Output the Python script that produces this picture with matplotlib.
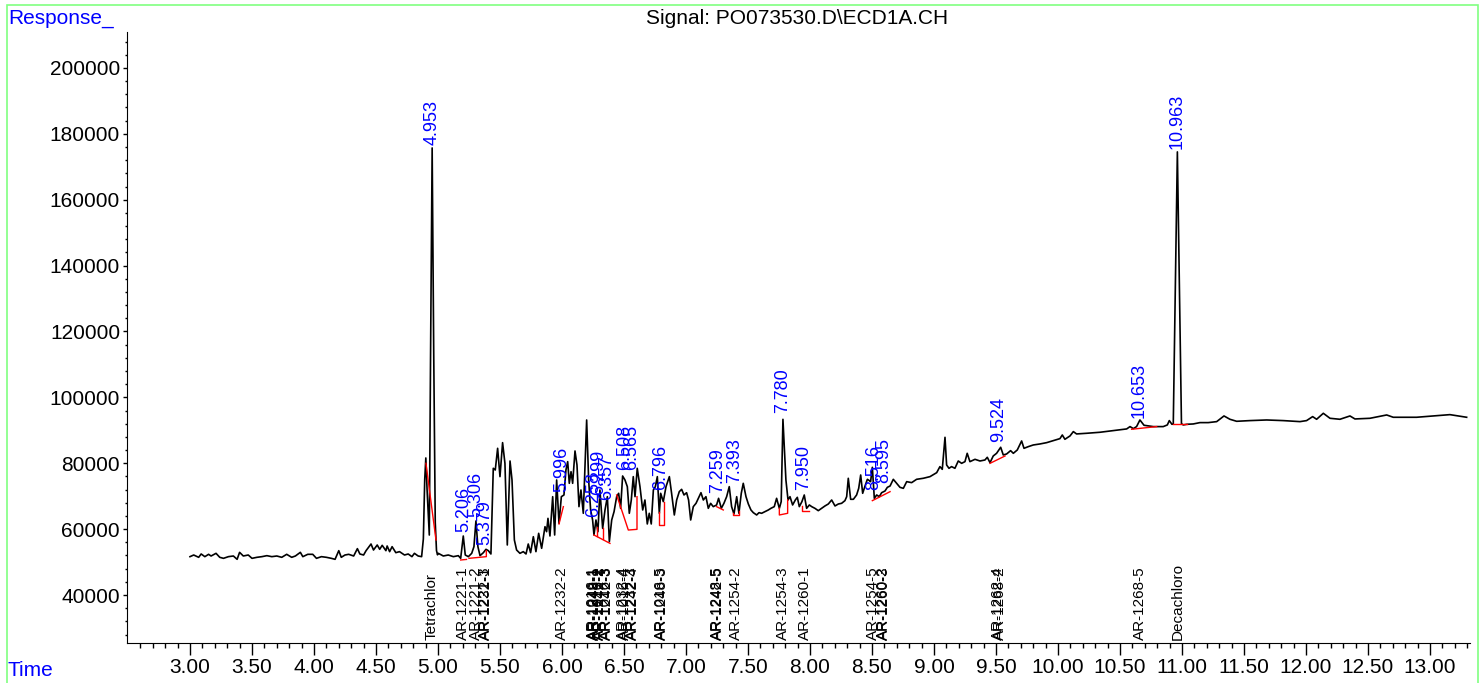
import matplotlib
matplotlib.use("Agg")
import matplotlib.pyplot as plt
from matplotlib.patches import Rectangle
from matplotlib.ticker import FormatStrFormatter

plt.rcParams['font.family'] = ['Liberation Sans', 'DejaVu Sans']

# ---- signal trace (time in min, response) ----
time = [3.00, 3.03, 3.07, 3.09, 3.12, 3.15, 3.17, 3.21, 3.24, 3.27, 3.31, 3.35, 3.38, 3.40, 3.43,
        3.47, 3.50, 3.54, 3.58, 3.62, 3.66, 3.70, 3.74, 3.78, 3.82, 3.85, 3.89, 3.91, 3.95, 3.99,
        4.02, 4.06, 4.10, 4.14, 4.17, 4.20, 4.22, 4.25, 4.28, 4.32, 4.35, 4.37, 4.40, 4.42, 4.46,
        4.48, 4.51, 4.53, 4.55, 4.58, 4.59, 4.61, 4.63, 4.66, 4.69, 4.73, 4.76, 4.79, 4.81, 4.84,
        4.868, 4.882, 4.893, 4.902, 4.912, 4.930, 4.940, 4.953, 4.966, 4.978, 4.988, 4.996,
        5.003, 5.043, 5.083, 5.124, 5.164, 5.183, 5.204, 5.220, 5.245, 5.272, 5.290, 5.306, 5.322,
        5.339, 5.366, 5.387, 5.406, 5.427, 5.446, 5.462, 5.481, 5.500, 5.521, 5.540, 5.559, 5.581,
        5.597, 5.616, 5.634, 5.661, 5.688, 5.710, 5.728, 5.747, 5.769, 5.790, 5.812, 5.836, 5.863,
        5.876, 5.887, 5.903, 5.925, 5.941, 5.957, 5.976, 5.995, 6.016, 6.032, 6.046, 6.059, 6.073,
        6.086, 6.105, 6.121, 6.137, 6.153, 6.172, 6.199, 6.215, 6.231, 6.247, 6.258, 6.274, 6.290,
        6.306, 6.328, 6.347, 6.366, 6.382, 6.401, 6.420, 6.441, 6.457, 6.473, 6.489, 6.508, 6.527,
        6.543, 6.559, 6.575, 6.589, 6.607, 6.629, 6.651, 6.669, 6.688, 6.704, 6.720, 6.737, 6.753,
        6.769, 6.785, 6.796, 6.817, 6.839, 6.866, 6.884, 6.906, 6.925, 6.946, 6.965, 6.984, 7.005,
        7.021, 7.038, 7.059, 7.081, 7.100, 7.121, 7.140, 7.161, 7.180, 7.199, 7.220, 7.247, 7.263,
        7.285, 7.306, 7.328, 7.349, 7.368, 7.387, 7.409, 7.427, 7.446, 7.462, 7.484, 7.503, 7.524,
        7.543, 7.570, 7.589, 7.610, 7.637, 7.664, 7.685, 7.712, 7.731, 7.753, 7.768, 7.782, 7.806,
        7.823, 7.839, 7.860, 7.882, 7.898, 7.914, 7.935, 7.954, 7.973, 7.995, 8.014, 8.040, 8.067,
        8.094, 8.121, 8.148, 8.175, 8.202, 8.229, 8.255, 8.282, 8.296, 8.309, 8.328, 8.350, 8.376,
        8.393, 8.409, 8.425, 8.444, 8.463, 8.479, 8.489, 8.503, 8.519, 8.538, 8.559, 8.578, 8.605,
        8.624, 8.646, 8.672, 8.699, 8.726, 8.753, 8.780, 8.820, 8.860, 8.914, 8.968, 9.022, 9.048,
        9.067, 9.089, 9.102, 9.121, 9.142, 9.169, 9.196, 9.223, 9.250, 9.268, 9.290, 9.331, 9.371,
        9.411, 9.430, 9.452, 9.478, 9.505, 9.538, 9.559, 9.586, 9.618, 9.640, 9.672, 9.707, 9.726,
        9.761, 9.801, 9.855, 9.909, 9.962, 10.016, 10.035, 10.056, 10.097, 10.124, 10.150, 10.231,
        10.339, 10.446, 10.554, 10.581, 10.608, 10.634, 10.661, 10.694, 10.769, 10.849, 10.882,
        10.898, 10.919, 10.930, 10.963, 10.996, 11.011, 11.038, 11.091, 11.145, 11.212, 11.280,
        11.339, 11.387, 11.441, 11.548, 11.683, 11.817, 11.952, 12.005, 12.054, 12.086, 12.140,
        12.194, 12.274, 12.355, 12.395, 12.516, 12.651, 12.704, 12.892, 13.027, 13.161, 13.296]
response = [51640, 52140, 51440, 52450, 51640, 52350, 51840, 52650, 51440, 51130, 51640, 51840, 50830,
            52950, 51840, 52140, 51130, 51440, 51640, 51940, 51640, 51840, 51440, 52350, 51440, 51840,
            52950, 51640, 52350, 52350, 51130, 51640, 51440, 51130, 50830, 53460, 51440, 52140, 52350,
            51840, 54070, 52450, 52140, 53460, 55480, 53660, 55180, 53870, 55080, 53460, 54880, 53160,
            54670, 52850, 53160, 52140, 52450, 51640, 52650, 51840,
            51640, 57000, 75000, 81600, 72000, 58200, 112000, 175700, 112000, 62000, 53500, 52200,
            52650, 51840, 52140, 51640, 51940, 51130, 57910, 52140, 51640, 52650, 54670, 62470, 54670,
            51940, 52850, 53870, 53460, 52450, 78460, 77950, 84530, 75930, 86250, 79970, 55180, 80680,
            74920, 56700, 53660, 52650, 53160, 52450, 55480, 52850, 57700, 53160, 58720, 54170, 60740,
            59220, 63270, 57910, 69850, 58210, 74920, 61760, 69850, 70360, 77950, 80480, 73900, 77440,
            73900, 83720, 79470, 66820, 71880, 64800, 93130, 74920, 65810, 62770, 58210, 62770, 59220,
            71880, 60230, 65810, 69850, 56190, 62770, 65300, 69850, 70870, 66310, 76130, 74920, 72890,
            64800, 68840, 75930, 69850, 78460, 72890, 65810, 68840, 61560, 64800, 61560, 71880, 72890,
            75930, 64800, 70870, 68340, 72890, 75930, 70870, 64290, 68840, 71370, 72080, 70360, 71060,
            68840, 62770, 66820, 67830, 69350, 71060, 68840, 69850, 66310, 67830, 66820, 67330, 69350,
            66310, 67830, 69850, 72890, 66820, 64590, 69850, 64800, 70870, 73900, 69850, 67630, 65810,
            65000, 64290, 65000, 64800, 65300, 65810, 66310, 66820, 69350, 66310, 68340, 93330, 74920,
            68840, 69850, 67330, 68840, 69650, 66820, 68340, 70360, 66310, 67330, 66820, 66310, 65600,
            66310, 67030, 67630, 68840, 67030, 67630, 67830, 68640, 69850, 75430, 69050, 69050, 70360,
            72380, 76430, 70870, 73090, 75120, 74720, 74410, 78760, 69350, 70360, 69850, 71060, 71570,
            72680, 73090, 75120, 73900, 72680, 72380, 74410, 74110, 75120, 75430, 75930, 77140, 78970,
            78150, 87870, 79470, 78460, 78970, 78460, 80680, 79970, 80480, 83010, 80480, 81190, 80680,
            80980, 81800, 80170, 82200, 83010, 84840, 82510, 82810, 83820, 83010, 84030, 86760, 84530,
            85040, 85540, 85850, 86250, 86860, 87470, 88580, 87270, 88280, 89600, 88890, 89090,
            89400, 89900, 90410, 91120, 90510, 91120, 93130, 91520, 91120, 91120, 91620,
            92940, 91820, 91900, 174500, 92000, 91620, 91820, 91920, 92330, 92330, 92630,
            94350, 93340, 92730, 92940, 93130, 92940, 92630, 92940, 94150, 93340, 95160,
            93640, 93340, 94350, 93440, 93640, 94650, 93950, 93950, 94350, 94750, 93950]

# ---- integration baselines (red) ----
baselines = [
    ([4.903, 4.984], [79980, 56700]),
    ([5.183, 5.230], [50630, 50800]),
    ([5.250, 5.390, 5.390], [51130, 51640, 53460]),
    ([5.976, 6.011], [61560, 66820]),
    ([6.258, 6.387], [58210, 55680]),
    ([6.279, 6.279], [57800, 60740]),
    ([6.328, 6.328], [56900, 60230]),
    ([6.441, 6.535, 6.605, 6.605], [70360, 59720, 59930, 69850]),
    ([6.785, 6.785, 6.823, 6.823], [65300, 61260, 61260, 68340]),
    ([7.247, 7.301], [66820, 65810]),
    ([7.376, 7.376, 7.425, 7.425], [65000, 64290, 64290, 65600]),
    ([7.753, 7.753, 7.820, 7.820], [66310, 64290, 64800, 68840]),
    ([7.938, 7.938, 7.995], [67030, 65600, 65600]),
    ([8.503, 8.646], [68640, 71370]),
    ([9.452, 9.573], [79970, 82200]),
    ([10.594, 10.796], [90310, 91120]),
    ([10.930, 11.038], [91820, 91820]),
]

# ---- peak retention-time labels (blue) ----
peak_labels = ["4.953", "5.206", "5.306", "5.379", "5.996", "6.258", "6.299", "6.357", "6.508", "6.565",
               "6.796", "7.259", "7.393", "7.780", "7.950", "8.516", "8.595", "9.524", "10.653", "10.963"]
peak_label_y = [176500, 59200, 63800, 55200, 71400, 63800, 70400, 68800, 78000, 78000,
                71900, 70900, 73900, 95200, 71900, 71900, 73900, 86500, 93700, 175300]

# ---- compound names (black) ----
compounds = ["Tetrachlor", "AR-1221-1", "AR-1221-2", "AR-1221-3", "AR-1232-1", "AR-1232-2",
             "AR-1016-1", "AR-1242-1", "AR-1248-1", "AR-1016-2", "AR-1242-2", "AR-1016-3",
             "AR-1242-3", "AR-1232-4", "AR-1016-4", "AR-1232-3", "AR-1242-4", "AR-1016-5",
             "AR-1248-3", "AR-1248-5", "AR-1242-5", "AR-1254-2", "AR-1254-3", "AR-1260-1",
             "AR-1254-5", "AR-1260-2", "AR-1260-3", "AR-1262-4", "AR-1268-2", "AR-1268-5", "Decachloro"]
compound_t = [4.95, 5.20, 5.31, 5.378, 5.386, 6.00,
              6.25, 6.26, 6.27, 6.30, 6.31, 6.355,
              6.365, 6.49, 6.505, 6.565, 6.575, 6.795,
              6.805, 7.25, 7.26, 7.40, 7.78, 7.96,
              8.51, 8.59, 8.60, 9.52, 9.53, 10.66, 10.97]

x_major = [3.0 + 0.5 * i for i in range(21)]
x_minor = [2.6 + 0.1 * i for i in range(108)]

fig = plt.figure(figsize=(14.82, 6.83), dpi=100)
ax = fig.add_axes([127 / 1482, 40 / 683, (1470 - 127) / 1482, (643 - 32) / 683])

ax.plot(time, response, color='black', lw=1.2)
for bx, by in baselines:
    ax.plot(bx, by, color='red', lw=1.0)

for lab, yy in zip(peak_labels, peak_label_y):
    ax.text(float(lab), yy, lab, rotation=90, ha='center', va='bottom',
            color='#0000ff', fontsize=13)

for name, t in zip(compounds, compound_t):
    ax.text(t, 26300, name, rotation=90, ha='center', va='bottom', color='black', fontsize=11)

ax.set_xlim(2.492, 13.323)
ax.set_ylim(25430, 210900)
ax.spines['top'].set_visible(False)
ax.spines['right'].set_visible(False)
ax.set_xticks(x_major)
ax.set_xticks(x_minor, minor=True)
ax.xaxis.set_major_formatter(FormatStrFormatter('%.2f'))
ax.set_yticks(range(40000, 200001, 20000))
ax.set_yticks(range(28000, 210001, 4000), minor=True)
ax.tick_params(axis='x', which='major', length=8.5, width=1, labelsize=15, pad=2)
ax.tick_params(axis='x', which='minor', length=3.5, width=1)
ax.tick_params(axis='y', which='major', length=3, width=1, labelsize=15, pad=2)
ax.tick_params(axis='y', which='minor', length=1.8, width=1)

fig.text(797 / 1482, 1 - 18 / 683, r"Signal: PO073530.D\ECD1A.CH", ha='center', va='center', fontsize=15)
fig.text(8 / 1482, 1 - 18 / 683, "Response_", color='#0000ff', fontsize=15, va='center')
fig.text(8 / 1482, 1 - 671 / 683, "Time", color='#0000ff', fontsize=15, va='center')
fig.patches.append(Rectangle((7 / 1482, -0.01), (1478 - 7) / 1482, 0.01 + 678 / 683,
                             transform=fig.transFigure, fill=False, edgecolor='#80ff80', lw=1.2))

fig.savefig("out.png", dpi=100)
